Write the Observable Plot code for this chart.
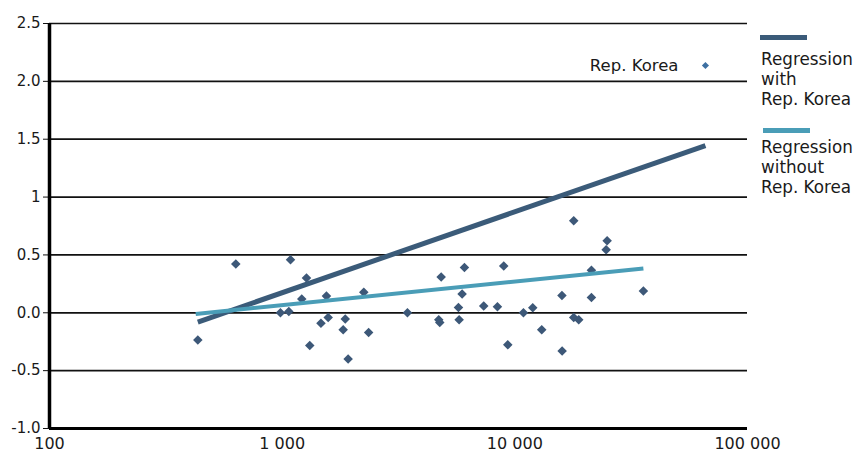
<!DOCTYPE html>
<html>
<head>
<meta charset="utf-8">
<script src="https://cdn.jsdelivr.net/npm/d3@7"></script>
<script src="https://cdn.jsdelivr.net/npm/@observablehq/plot@0.6"></script>
<style>
  html, body { margin: 0; padding: 0; background: #fff; }
  #wrap { position: relative; width: 861px; height: 453px; font-family: "DejaVu Sans", sans-serif; }
  #legend { position: absolute; left: 0; top: 0; }
  .sw { position: absolute; height: 4.5px; width: 47px; }
  .lt { position: absolute; font-size: 16.8px; line-height: 20px; color: #1a1a1a; white-space: nowrap; }
</style>
</head>
<body>
<div id="wrap"></div>
<script>
// Tick values and labels
const xTicks = [100, 1000, 10000, 100000];
const xTickLabels = ["100", "1 000", "10 000", "100 000"];
const yTicks = [-1, -0.5, 0, 0.5, 1, 1.5, 2, 2.5];
const yTickLabels = ["-1.0", "-0.5", "0.0", "0.5", "1", "1.5", "2.0", "2.5"];
const gridValues = [-0.5, 0, 0.5, 1, 1.5, 2, 2.5];

// Countries (excluding Rep. Korea): x value (log scale) and y value
const countryX = [434, 632, 1086, 1272, 1214, 983, 1068, 1550, 2243, 1468, 1577, 1867, 1829, 1314, 2353, 1921,
  3455, 4824, 6073, 8960, 5935, 5724, 7350, 8418, 4710, 4757, 5763, 10890, 11940, 13050, 9325,
  15940, 15970, 17910, 18820, 21340, 21340, 24930, 24690, 35690, 17910];
const countryY = [-0.236, 0.421, 0.458, 0.300, 0.119, 0.0, 0.011, 0.144, 0.177, -0.091, -0.041, -0.054, -0.147, -0.283, -0.171, -0.400,
  0.0, 0.309, 0.392, 0.404, 0.162, 0.046, 0.058, 0.052, -0.061, -0.084, -0.060, 0.0, 0.043, -0.147, -0.277,
  0.149, -0.331, -0.041, -0.061, 0.132, 0.368, 0.623, 0.545, 0.189, 0.796];

// Rep. Korea
const koreaX = [65950];
const koreaY = [2.137];
const koreaLabel = ["Rep. Korea"];

// Regression lines (endpoints)
const regWithX = [434, 65950];
const regWithY = [-0.08, 1.445];
const regWithoutX = [425, 35690];
const regWithoutY = [-0.01, 0.383];

const legendLabels = [["Regression", "with", "Rep. Korea"], ["Regression", "without", "Rep. Korea"]];

const countries = countryX.map((x, i) => ({x, y: countryY[i]}));
const korea = koreaX.map((x, i) => ({x, y: koreaY[i], label: koreaLabel[i]}));
const regWith = regWithX.map((x, i) => ({x, y: regWithY[i]}));
const regWithout = regWithoutX.map((x, i) => ({x, y: regWithoutY[i]}));

const darkLine = "#3b5b79";
const lightLine = "#4a9db7";
const pointColor = "#3d5878";
const koreaColor = "#3d70a2";

const chart = Plot.plot({
  width: 861,
  height: 453,
  marginLeft: 49,
  marginRight: 114,
  marginTop: 23,
  marginBottom: 25,
  style: {fontFamily: "DejaVu Sans, sans-serif", fontSize: "15px", color: "#1a1a1a", background: "#fff"},
  x: {type: "log", domain: [100, 100000]},
  y: {domain: [-1, 2.5]},
  marks: [
    Plot.ruleY(gridValues, {stroke: "#111", strokeWidth: 1.7}),
    Plot.axisY({ticks: yTicks, tickFormat: d => yTickLabels[yTicks.indexOf(d)], tickSize: 6, tickPadding: 3, label: null, stroke: "#111", fontSize: 15}),
    Plot.axisX({ticks: xTicks, tickFormat: d => xTickLabels[xTicks.indexOf(d)], tickSize: 0, tickPadding: 9, label: null, fontSize: 16}),
    Plot.ruleX([100], {stroke: "#000", strokeWidth: 3.5}),
    Plot.ruleY([-1], {stroke: "#000", strokeWidth: 3}),
    Plot.dot(countries, {x: "x", y: "y", symbol: "diamond2", r: 4.3, fill: pointColor, stroke: "none"}),
    Plot.line(regWith, {x: "x", y: "y", stroke: darkLine, strokeWidth: 5, strokeLinecap: "butt"}),
    Plot.line(regWithout, {x: "x", y: "y", stroke: lightLine, strokeWidth: 4, strokeLinecap: "butt"}),
    Plot.dot(korea, {x: "x", y: "y", symbol: "diamond2", r: 3.2, fill: koreaColor, stroke: "none"}),
    Plot.text(korea, {x: "x", y: "y", text: "label", textAnchor: "end", dx: -27, fontSize: 16.5, fill: "#1a1a1a"})
  ]
});

const wrap = document.getElementById("wrap");
wrap.appendChild(chart);

// Legend (outside plotting area, on the right)
const legend = document.createElement("div");
legend.id = "legend";
const entries = [
  {color: darkLine, swLeft: 760, swTop: 35, textTop: 49, lines: legendLabels[0]},
  {color: lightLine, swLeft: 763, swTop: 128, textTop: 137, lines: legendLabels[1]}
];
entries.forEach(e => {
  const sw = document.createElement("div");
  sw.className = "sw";
  sw.style.left = e.swLeft + "px";
  sw.style.top = e.swTop + "px";
  sw.style.background = e.color;
  legend.appendChild(sw);
  e.lines.forEach((line, k) => {
    const t = document.createElement("div");
    t.className = "lt";
    t.style.left = "761px";
    t.style.top = (e.textTop + 20 * k) + "px";
    t.textContent = line;
    legend.appendChild(t);
  });
});
wrap.appendChild(legend);
</script>
</body>
</html>
